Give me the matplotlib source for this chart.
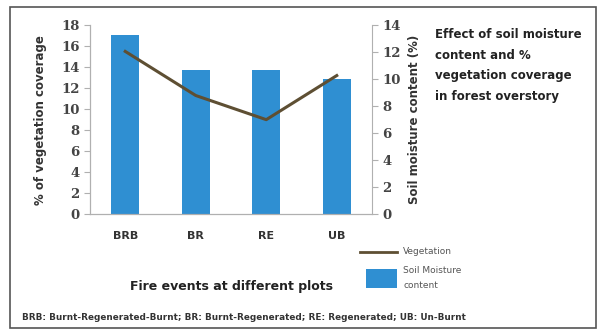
import matplotlib
matplotlib.use('Agg')
import matplotlib.pyplot as plt
from matplotlib.patches import Rectangle
from matplotlib.lines import Line2D

plots = ['BRB', 'BR', 'RE', 'UB']
soil_moisture = [13.3, 10.7, 10.7, 10.0]
vegetation = [15.5, 11.3, 9.0, 13.2]
left_ticks = list(range(0, 20, 2))
right_ticks = list(range(0, 16, 2))

bar_col = '#2f8fd2'
line_col = '#5e4f33'
grey = '#b0b0b0'

fig = plt.figure(figsize=(6, 3.31), dpi=100)
fig.patches.append(Rectangle((0.016, 0.008), 0.978, 0.972, transform=fig.transFigure,
                             fill=False, edgecolor='#555555', linewidth=1.2))

ax = fig.add_axes([0.15, 0.353, 0.47, 0.571])
ax2 = ax.twinx()

x = range(len(plots))
ax2.bar(x, soil_moisture, width=0.4, color=bar_col, zorder=2)
ax.plot(x, vegetation, color=line_col, linewidth=2.2, zorder=5)
ax.set_zorder(ax2.get_zorder() + 1)
ax.patch.set_visible(False)

ax.set_xlim(-0.5, 3.5)
ax.set_ylim(0, 18)
ax2.set_ylim(0, 14)
ax.set_yticks(left_ticks)
ax2.set_yticks(right_ticks)
ax.set_xticks(list(x))
ax.set_xticklabels(plots, fontsize=8, fontweight='bold', color='#333333', family='DejaVu Sans')
ax.tick_params(axis='x', length=0, pad=12)

for a in (ax, ax2):
    for s in a.spines.values():
        s.set_color(grey)
    a.spines['top'].set_visible(False)
    a.tick_params(axis='y', colors=grey, labelcolor='#444444', labelsize=9.5, length=4)
    for lab in a.get_yticklabels():
        lab.set_family('DejaVu Serif')
        lab.set_fontweight('bold')
ax.spines['right'].set_visible(False)

ax.set_ylabel('% of vegetation coverage', fontsize=8.5, fontweight='bold', color='#333333', labelpad=10)
ax2.set_ylabel('Soil moisture content (%)', fontsize=8.5, fontweight='bold', color='#333333', labelpad=5)
ax.set_xlabel('Fire events at different plots', fontsize=9, fontweight='bold', color='#222222', labelpad=28)

fig.text(0.725, 0.915, 'Effect of soil moisture\ncontent and %\nvegetation coverage\nin forest overstory',
         fontsize=8.5, fontweight='bold', color='#222222', va='top', ha='left', linespacing=1.75)

# legend drawn by hand to the right of the plot
fig.add_artist(Line2D([0.60, 0.662], [0.239, 0.239], transform=fig.transFigure,
                      color=line_col, linewidth=2))
fig.text(0.672, 0.239, 'Vegetation', fontsize=6.5, color='#555555', va='center')
fig.patches.append(Rectangle((0.61, 0.13), 0.052, 0.058, transform=fig.transFigure,
                             facecolor=bar_col, edgecolor='none'))
fig.text(0.672, 0.16, 'Soil Moisture\ncontent', fontsize=6.5, color='#555555', va='center',
         linespacing=1.9)

fig.text(0.036, 0.04, 'BRB: Burnt-Regenerated-Burnt; BR: Burnt-Regenerated; RE: Regenerated; UB: Un-Burnt',
         fontsize=6.4, fontweight='bold', color='#333333', va='center')

fig.savefig('out.png', dpi=100)
